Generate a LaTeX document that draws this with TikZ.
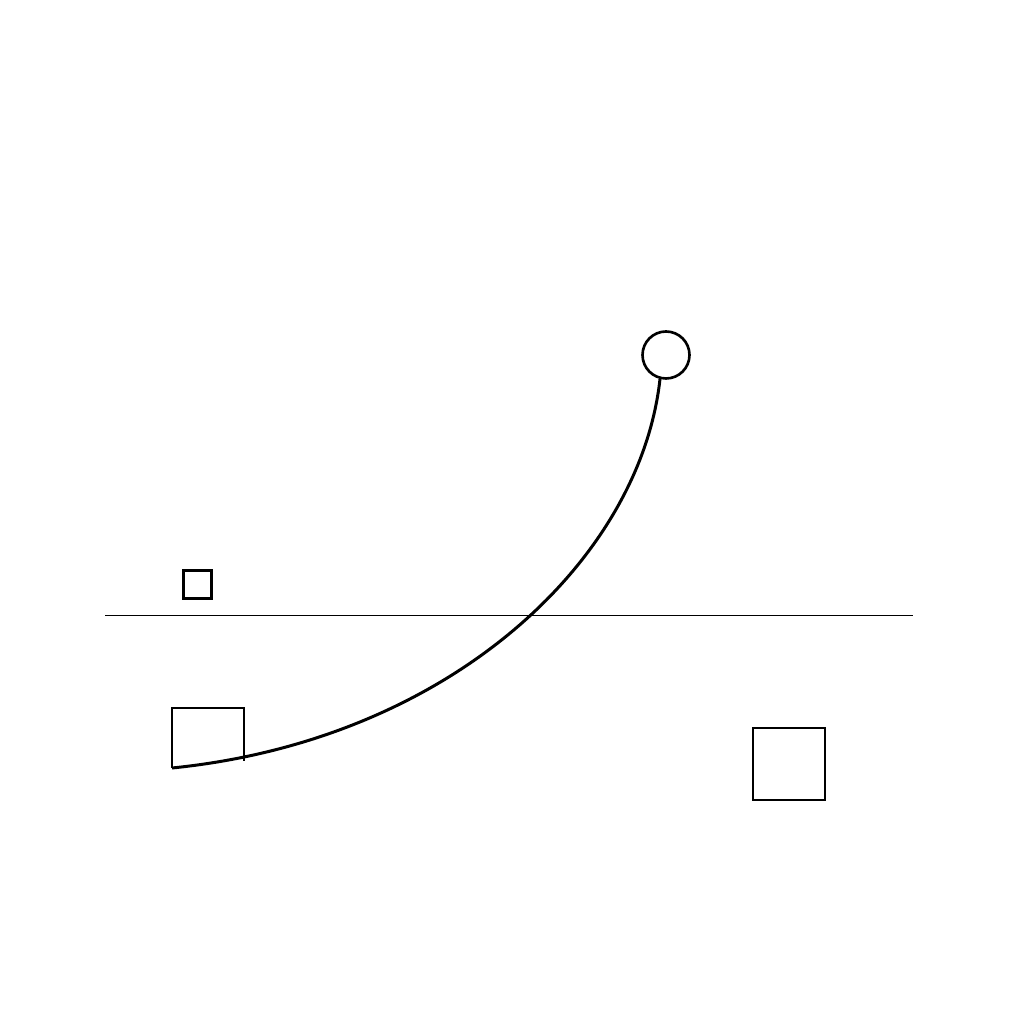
\documentclass[tikz,border=0pt]{standalone}
\begin{document}
\begin{tikzpicture}
    \useasboundingbox (0,0) rectangle (10.24,10.24);
    \tikzset{box/.style={draw, line width=0.6pt, inner sep=0pt}}
    \draw[line width=0.45pt] (1.05,4.085) coordinate (ground west) -- (9.13,4.085) coordinate (ground east);
    \node (ball) at (6.66,6.69) [draw, circle, line width=0.75pt, inner sep=0pt, minimum size=0.47cm] {};
    \node (tag) at (1.975,4.395) [box, minimum size=0.28cm] {};
    \node (crate) at (7.89,2.60) [box, minimum size=0.72cm] {};
    \coordinate (bin sw) at (1.72,2.56);
    \coordinate (bin se) at (2.44,2.63);
    \draw[line width=0.6pt] (bin sw) -- (1.72,3.16) -- (2.44,3.16) -- (bin se);
    \draw[line width=0.85pt] (ball.-104) .. controls (6.40,4.64) and (4.50,2.84) .. (bin sw);
\end{tikzpicture}
\end{document}
